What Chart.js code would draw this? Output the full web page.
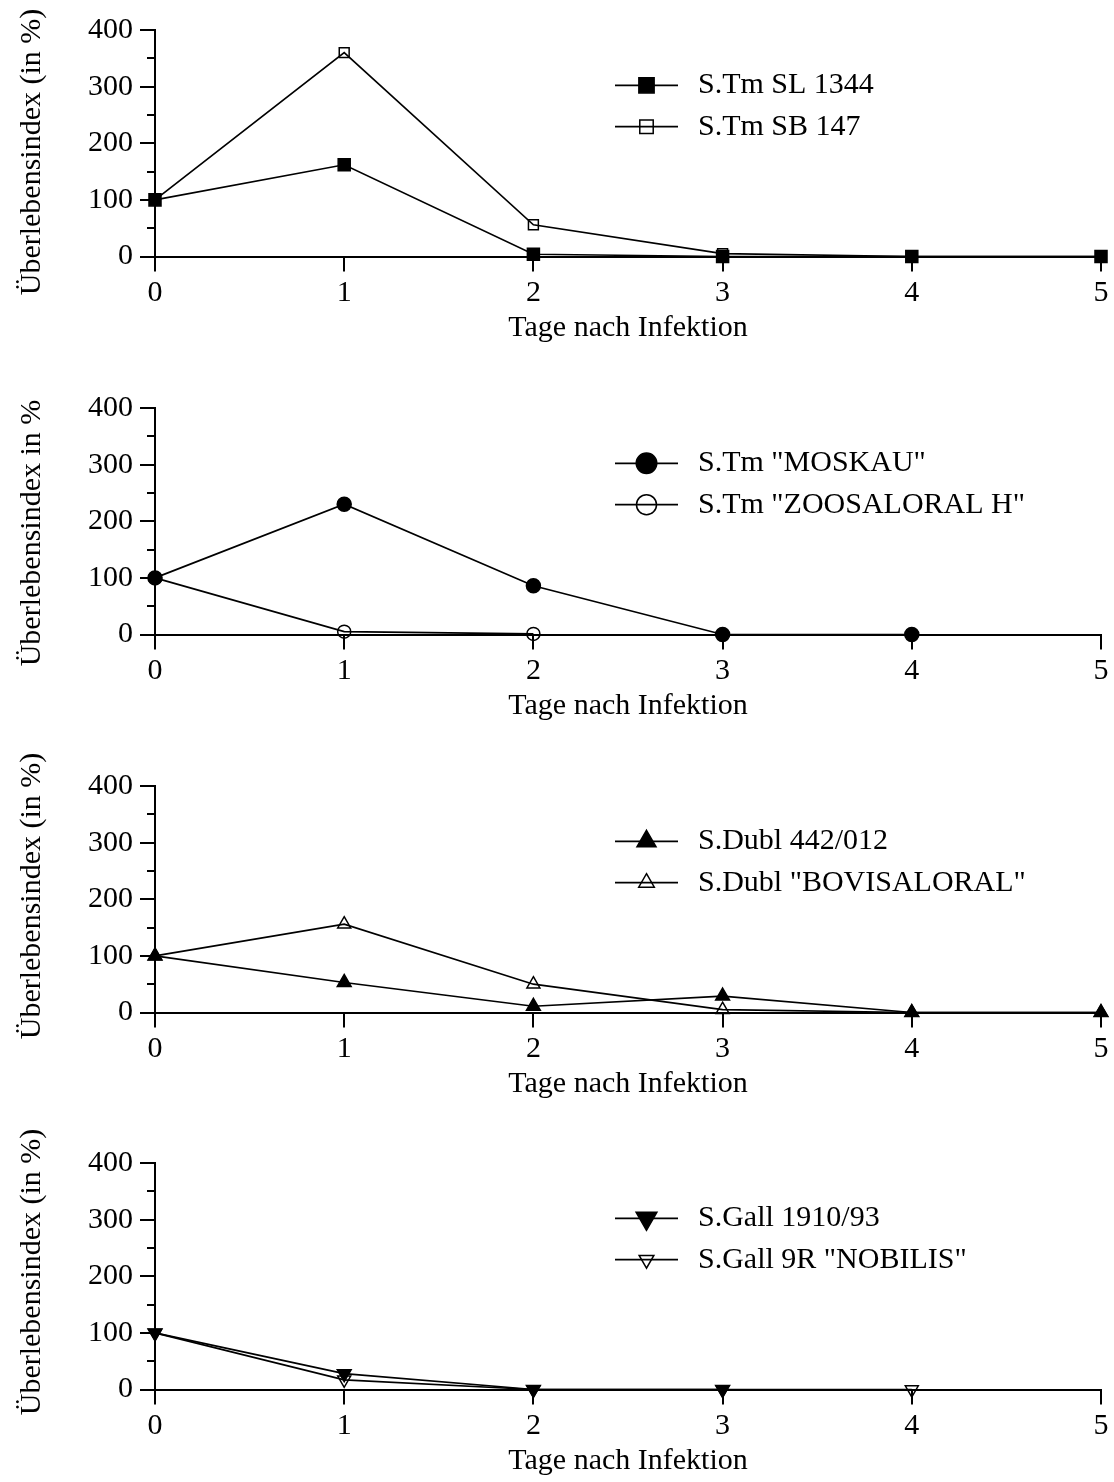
<!DOCTYPE html>
<html>
<head>
<meta charset="utf-8">
<script src="https://cdn.jsdelivr.net/npm/chart.js@4.4.1/dist/chart.umd.min.js"></script>
<style>
  html, body { margin: 0; padding: 0; background: #fff; width: 1114px; height: 1482px; overflow: hidden; position: relative; }
  canvas { position: absolute; left: 0; }
</style>
</head>
<body>
<canvas id="panel1" width="1114" height="398" style="top:-20px"></canvas>
<canvas id="panel2" width="1114" height="398" style="top:358px"></canvas>
<canvas id="panel3" width="1114" height="398" style="top:736px"></canvas>
<canvas id="panel4" width="1114" height="398" style="top:1113px"></canvas>
<script>
// Days after infection (x axis)
const days = [0, 1, 2, 3, 4, 5];
const yMinorTicks = [50, 150, 250, 350];
const xTitle = 'Tage nach Infektion';
const yTitleLong = 'Überlebensindex (in %)';
const yTitleShort = 'Überlebensindex in %';

// Panel 1: S. Typhimurium
const labelsP1 = ['S.Tm SL 1344', 'S.Tm SB 147'];
const stmSL1344 = [100, 162, 4, 0, 0, 0];
const stmSB147 = [100, 360, 56, 5, 0, 0];

// Panel 2: S. Typhimurium vaccine strains
const labelsP2 = ['S.Tm "MOSKAU"', 'S.Tm "ZOOSALORAL H"'];
const stmMoskau = [100, 230, 86, 0, 0, null];
const stmZoosaloral = [100, 5, 1, null, null, null];

// Panel 3: S. Dublin
const labelsP3 = ['S.Dubl 442/012', 'S.Dubl "BOVISALORAL"'];
const sdubl442 = [100, 53, 11, 29, 0, 0];
const sdublBovisaloral = [100, 156, 50, 5, 0, 0];

// Panel 4: S. Gallinarum
const labelsP4 = ['S.Gall 1910/93', 'S.Gall 9R "NOBILIS"'];
const sgall1910 = [100, 28, 0, 0, null, null];
const sgallNobilis = [100, 17, 0, 0, 0, null];

const FAMILY = "'Liberation Serif', 'Times New Roman', Times, serif";
const FONT_SIZE = 30;
const tickFont = { family: FAMILY, size: FONT_SIZE, lineHeight: 1.2 };

function points(values) {
  return days.map((d, i) => ({ x: d, y: values[i] }));
}

function series(label, values, marker) {
  return {
    label,
    data: points(values),
    borderColor: '#000',
    borderWidth: 1.7,
    tension: 0,
    clip: false,
    spanGaps: false,
    pointStyle: marker.style,
    pointRotation: marker.rotation || 0,
    pointRadius: marker.radius,
    pointHoverRadius: marker.radius,
    pointBackgroundColor: marker.filled ? '#000' : 'rgba(0,0,0,0)',
    pointBorderColor: '#000',
    pointBorderWidth: 1.5,
    legendRadius: marker.legendRadius
  };
}

// Short ticks between the labelled y ticks
const minorTicks = {
  id: 'minorTicks',
  afterDraw(chart) {
    const ys = chart.scales.y;
    const ctx = chart.ctx;
    ctx.save();
    ctx.strokeStyle = '#000';
    ctx.lineWidth = 2;
    for (const v of yMinorTicks) {
      const py = Math.round(ys.getPixelForValue(v));
      ctx.beginPath();
      ctx.moveTo(ys.right - 8, py);
      ctx.lineTo(ys.right, py);
      ctx.stroke();
    }
    ctx.restore();
  }
};

// Legend rows: a short line with the marker on it, then the label
const lineLegend = {
  id: 'lineLegend',
  afterDraw(chart, args, opts) {
    const ctx = chart.ctx;
    const top = chart.chartArea.top;
    chart.data.datasets.forEach((ds, i) => {
      const y = top + opts.rows[i];
      ctx.save();
      ctx.strokeStyle = '#000';
      ctx.lineWidth = ds.borderWidth;
      ctx.beginPath();
      ctx.moveTo(opts.x0, y);
      ctx.lineTo(opts.x1, y);
      ctx.stroke();
      ctx.fillStyle = ds.pointBackgroundColor;
      ctx.strokeStyle = '#000';
      ctx.lineWidth = ds.pointBorderWidth;
      Chart.helpers.drawPoint(ctx, {
        pointStyle: ds.pointStyle,
        radius: ds.legendRadius,
        rotation: ds.pointRotation,
        borderWidth: ds.pointBorderWidth
      }, opts.markerX, y);
      ctx.fillStyle = '#000';
      ctx.font = FONT_SIZE + 'px ' + FAMILY;
      ctx.textAlign = 'left';
      ctx.textBaseline = 'middle';
      ctx.fillText(ds.label, opts.textX, y);
      ctx.restore();
    });
  }
};

// Rotated y-axis title, placed relative to the top of the plot area
const yTitle = {
  id: 'yTitle',
  afterDraw(chart, args, opts) {
    const ctx = chart.ctx;
    ctx.save();
    ctx.translate(opts.x, chart.chartArea.top + opts.offsetY);
    ctx.rotate(-Math.PI / 2);
    ctx.fillStyle = '#000';
    ctx.font = FONT_SIZE + 'px ' + FAMILY;
    ctx.textAlign = 'center';
    ctx.textBaseline = 'alphabetic';
    ctx.fillText(opts.text, 0, 0);
    ctx.restore();
  }
};

function makeChart(id, datasets, titleText, titleOffsetY) {
  return new Chart(document.getElementById(id), {
    type: 'line',
    data: { datasets },
    options: {
      responsive: false,
      animation: false,
      devicePixelRatio: 1,
      events: [],
      layout: { padding: { left: 0, top: 50, right: 13, bottom: 0 } },
      scales: {
        x: {
          type: 'linear',
          min: 0,
          max: 5,
          afterFit(scale) { scale.height = 121.5; scale.paddingLeft = 0; scale.paddingRight = 0; },
          ticks: { stepSize: 1, color: '#000', font: tickFont, padding: 4, maxRotation: 0 },
          grid: { drawOnChartArea: false, drawTicks: true, tickLength: 15, color: '#000', lineWidth: 2 },
          border: { display: true, color: '#000', width: 2 },
          title: { display: true, text: xTitle, color: '#000', font: tickFont, padding: { top: 0, bottom: 32 } }
        },
        y: {
          type: 'linear',
          min: 0,
          max: 400,
          afterFit(scale) { scale.width = 155; scale.paddingTop = 0; scale.paddingBottom = 0; },
          ticks: { stepSize: 100, color: '#000', font: tickFont, padding: 7 },
          grid: { drawOnChartArea: false, drawTicks: true, tickLength: 15, color: '#000', lineWidth: 2 },
          border: { display: true, color: '#000', width: 2 }
        }
      },
      plugins: {
        legend: { display: false },
        tooltip: { enabled: false },
        lineLegend: { x0: 615, x1: 678, markerX: 646.5, textX: 698, rows: [55.3, 96.7] },
        yTitle: { text: titleText, x: 40, offsetY: titleOffsetY }
      }
    },
    plugins: [minorTicks, lineLegend, yTitle]
  });
}

const sqFilled = { style: 'rect', radius: 8.5, legendRadius: 10.8, filled: true };
const sqOpen = { style: 'rect', radius: 7, legendRadius: 9.5, filled: false };
const circFilled = { style: 'circle', radius: 7, legendRadius: 10.3, filled: true };
const circOpen = { style: 'circle', radius: 6.5, legendRadius: 10, filled: false };
const triFilled = { style: 'triangle', radius: 8, legendRadius: 11, filled: true };
const triOpen = { style: 'triangle', radius: 7.5, legendRadius: 9, filled: false };
const downFilled = { style: 'triangle', rotation: 180, radius: 8, legendRadius: 12, filled: true };
const downOpen = { style: 'triangle', rotation: 180, radius: 7.5, legendRadius: 8.5, filled: false };

makeChart('panel1', [
  series(labelsP1[0], stmSL1344, sqFilled),
  series(labelsP1[1], stmSB147, sqOpen)
], yTitleLong, 122);

makeChart('panel2', [
  series(labelsP2[0], stmMoskau, circFilled),
  series(labelsP2[1], stmZoosaloral, circOpen)
], yTitleShort, 125);

makeChart('panel3', [
  series(labelsP3[0], sdubl442, triFilled),
  series(labelsP3[1], sdublBovisaloral, triOpen)
], yTitleLong, 110);

makeChart('panel4', [
  series(labelsP4[0], sgall1910, downFilled),
  series(labelsP4[1], sgallNobilis, downOpen)
], yTitleLong, 109);
</script>
</body>
</html>
